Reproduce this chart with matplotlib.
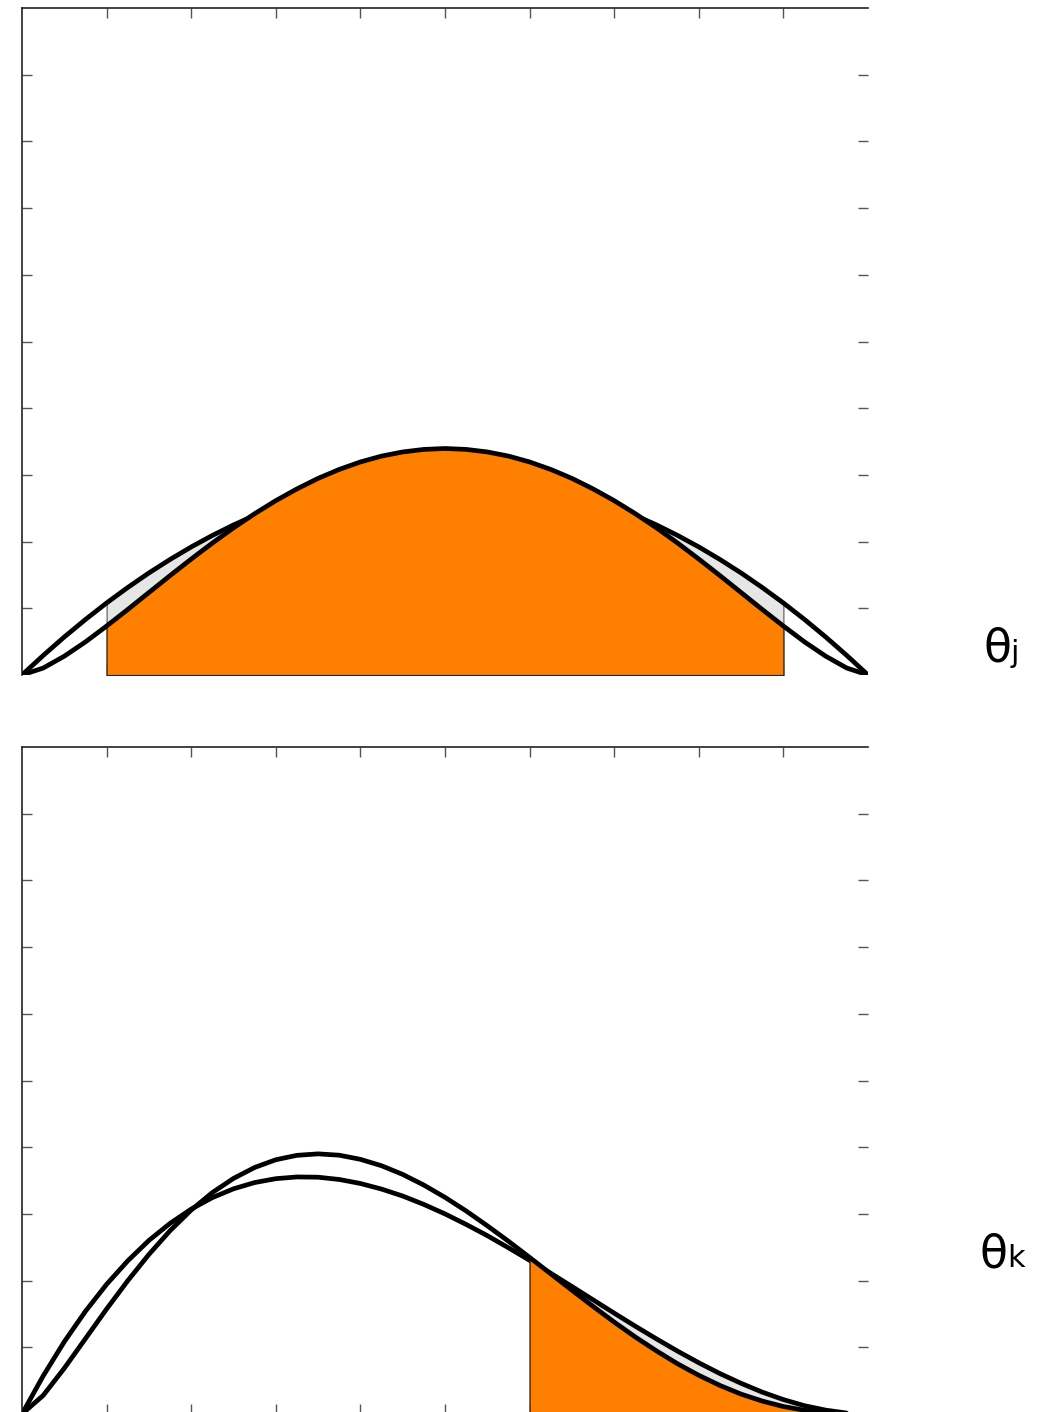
import matplotlib
matplotlib.use("Agg")
import matplotlib.pyplot as plt
import numpy as np

# grid of theta values, step 0.025
theta = np.round(np.arange(41) * 0.025, 3)

# panel j: wide and narrow densities (symmetric)
dens_j_wide = [0.0, 0.146, 0.285, 0.416, 0.540, 0.656, 0.765, 0.866, 0.960, 1.046,
               1.125, 1.196, 1.260, 1.316, 1.365, 1.406, 1.440, 1.466, 1.485, 1.496,
               1.500,
               1.496, 1.485, 1.466, 1.440, 1.406, 1.365, 1.316, 1.260, 1.196, 1.125,
               1.046, 0.960, 0.866, 0.765, 0.656, 0.540, 0.416, 0.285, 0.146, 0.0]
dens_j_narrow = [0.0, 0.052, 0.141, 0.248, 0.367, 0.491, 0.618, 0.745, 0.869, 0.989,
                 1.103, 1.209, 1.307, 1.395, 1.474, 1.541, 1.597, 1.641, 1.672, 1.691,
                 1.698,
                 1.691, 1.672, 1.641, 1.597, 1.541, 1.474, 1.395, 1.307, 1.209, 1.103,
                 0.989, 0.869, 0.745, 0.618, 0.491, 0.367, 0.248, 0.141, 0.052, 0.0]

# panel k: wide and narrow densities (skewed)
dens_k_wide = [0.0, 0.285, 0.542, 0.770, 0.972, 1.148, 1.301, 1.429, 1.536, 1.622,
               1.688, 1.735, 1.764, 1.777, 1.775, 1.758, 1.728, 1.686, 1.634, 1.571,
               1.500, 1.421, 1.337, 1.246, 1.152, 1.055, 0.956, 0.856, 0.756, 0.658,
               0.563, 0.471, 0.384, 0.303, 0.230, 0.164, 0.108, 0.062, 0.029, 0.007,
               0.0]
dens_k_narrow = [0.0, 0.139, 0.343, 0.565, 0.787, 0.999, 1.196, 1.374, 1.529, 1.660,
                 1.766, 1.848, 1.906, 1.939, 1.950, 1.940, 1.909, 1.861, 1.796, 1.716,
                 1.624, 1.522, 1.411, 1.295, 1.174, 1.051, 0.928, 0.807, 0.689, 0.577,
                 0.473, 0.376, 0.290, 0.214, 0.149, 0.097, 0.056, 0.028, 0.010, 0.002,
                 0.0]

# shaded intervals
interval_j = (0.1, 0.9)
interval_k = (0.6, 1.0)

orange = "#ff8000"
grey = "#e6e6e6"

W, H = 1050, 1412
fig = plt.figure(figsize=(W / 100, H / 100), dpi=100)


def panel(rect, wide, narrow, lo, hi):
    ax = fig.add_axes(rect)
    x = np.array(theta)
    wide = np.array(wide)
    narrow = np.array(narrow)
    sel = (x >= lo - 1e-9) & (x <= hi + 1e-9)
    line_kw = dict(color="black", linewidth=3.4, solid_capstyle="round",
                   solid_joinstyle="round")
    # wide density first, then the shaded area of the narrow one on top of it
    ax.fill_between(x[sel], 0, wide[sel], facecolor=grey, edgecolor="#555555",
                    linewidth=0.8, zorder=1)
    ax.plot(x, wide, zorder=2, **line_kw)
    ax.fill_between(x[sel], 0, narrow[sel], facecolor=orange, edgecolor="#222222",
                    linewidth=0.8, zorder=3)
    ax.plot(x, narrow, zorder=4, **line_kw)
    ax.set_xlim(0, 1)
    ax.set_ylim(0, 5)
    ax.set_xticks(np.arange(1, 10) / 10)
    ax.set_yticks(np.arange(1, 10) / 2)
    ax.tick_params(direction="in", length=7, width=1, color="#555555",
                   top=True, right=True, bottom=True, left=True,
                   labelbottom=False, labelleft=False)
    for s in ("right", "bottom"):
        ax.spines[s].set_visible(False)
    for s in ("top", "left"):
        ax.spines[s].set_color("#222222")
        ax.spines[s].set_linewidth(1.2)
    ax.set_facecolor("white")
    return ax


left = 22 / W
width = 846 / W
height = 667 / H
panel([left, (H - 675) / H, width, height], dens_j_wide, dens_j_narrow, *interval_j)
panel([left, (H - 1414) / H, width, height], dens_k_wide, dens_k_narrow, *interval_k)


def label(x_px, base_px, sub):
    fig.text(x_px / W, 1 - base_px / H, "θ", fontsize=33, family="DejaVu Sans",
             ha="left", va="baseline")
    fig.text((x_px + 27) / W, 1 - base_px / H, sub, fontsize=22, family="DejaVu Sans",
             ha="left", va="baseline")


label(984, 662, "j")
label(980, 1267, "k")

fig.savefig("out.png", dpi=100, facecolor="white")
